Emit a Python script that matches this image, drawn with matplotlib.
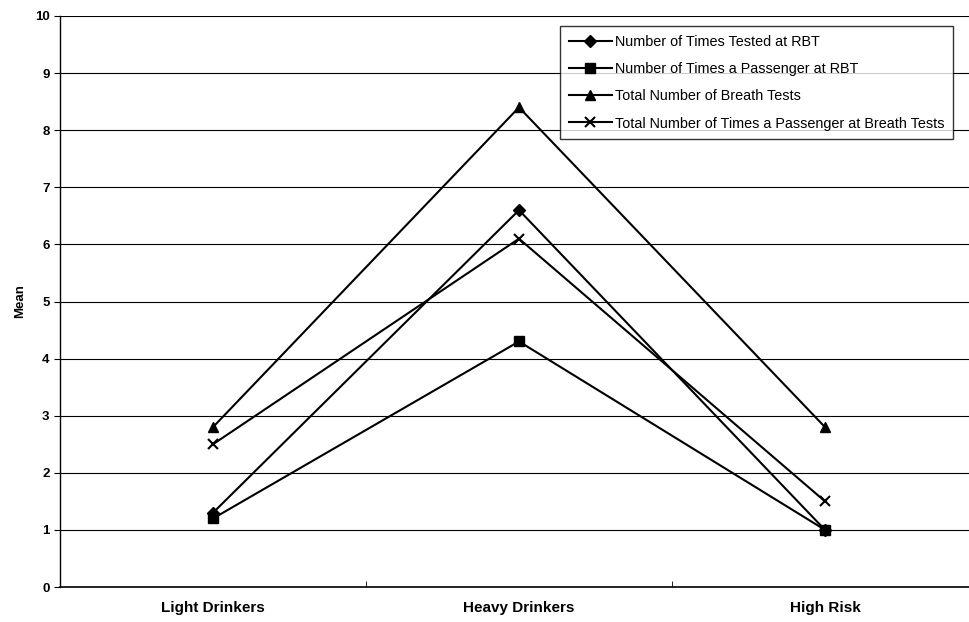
import numpy as np
from matplotlib import pyplot as plt

plt.rcParams['font.family'] = ['Liberation Sans', 'DejaVu Sans']

categorias = ["Light Drinkers", "Heavy Drinkers", "High Risk"]
series_nombres = ["Number of Times Tested at RBT",
                  "Number of Times a Passenger at RBT",
                  "Total Number of Breath Tests",
                  "Total Number of Times a Passenger at Breath Tests"]
tested_rbt = [1.3, 6.6, 1.0]
pasajero_rbt = [1.2, 4.3, 1.0]
total_breath = [2.8, 8.4, 2.8]
total_pasajero = [2.5, 6.1, 1.5]
marcadores = ["D", "s", "^", "x"]

fig = plt.figure(figsize=(9.7, 6.22), dpi=100)
ax = fig.add_axes([60/970, 35/622, 918/970, 571/622])

x = np.arange(len(categorias))
for valores, nombre, m in zip([tested_rbt, pasajero_rbt, total_breath, total_pasajero],
                              series_nombres, marcadores):
    ms = 7 if m != "D" else 6
    ax.plot(x, valores, color="black", lw=1.5, marker=m, ms=ms,
            mew=1.5 if m == "x" else 1, label=nombre, clip_on=False)

ax.set_xlim(-0.5, 2.5)
ax.set_ylim(0, 10)
ax.set_yticks(range(0, 11))
ax.yaxis.grid(True, color="black", lw=0.8)
ax.set_axisbelow(True)
ax.set_xticks(x)
ax.set_xticklabels(categorias, fontweight="bold", fontsize=11)
ax.set_xticks([0.5, 1.5], minor=True)
ax.tick_params(axis="x", which="major", length=0, pad=10)
ax.tick_params(axis="x", which="minor", length=4, direction="in")
ax.tick_params(axis="y", length=4, labelsize=9.5)
for lab in ax.get_yticklabels():
    lab.set_fontweight("bold")
ax.set_ylabel("Mean", fontweight="bold", fontsize=9.5, labelpad=6)

for lado in ["top", "right"]:
    ax.spines[lado].set_visible(False)
ax.spines["left"].set_linewidth(1)
ax.spines["bottom"].set_linewidth(1.2)

leg = ax.legend(loc="upper left", bbox_to_anchor=(500/918, 1 - 10/571),
                fontsize=10.4, frameon=True, fancybox=False, edgecolor="black",
                handlelength=3.0, handletextpad=0.2, labelspacing=0.92,
                borderpad=0.6, borderaxespad=0)
leg.get_frame().set_linewidth(1)

fig.savefig("out.png", dpi=100)
